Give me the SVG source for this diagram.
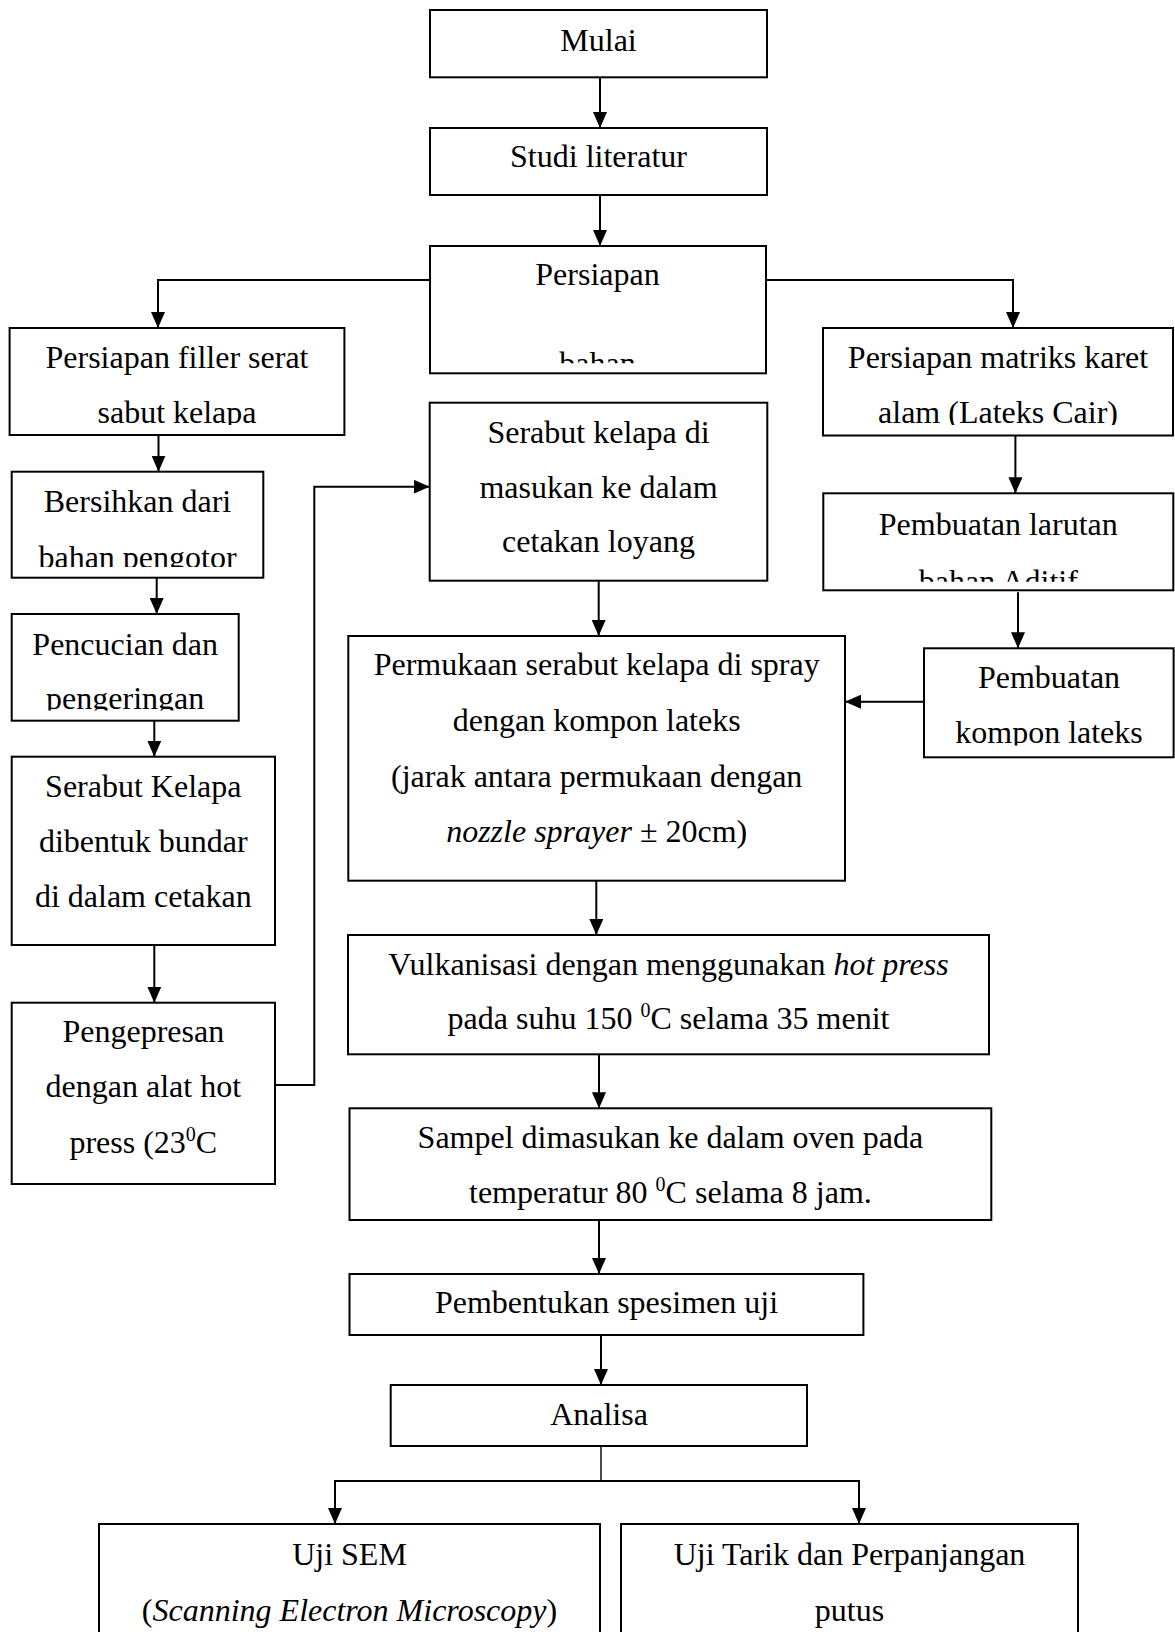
<svg xmlns="http://www.w3.org/2000/svg" width="1175" height="1632" viewBox="0 0 1175 1632">
<style>
.box{fill:#fff;stroke:#000;stroke-width:2}
.t{font-family:"Liberation Serif","Times New Roman",serif;font-size:32px;fill:#000;text-anchor:middle}
.it{font-style:italic}
.c{fill:none;stroke:#000;stroke-width:2}
.thin{fill:none;stroke:#000;stroke-width:1.4}
</style>
<defs>
<marker id="ah" markerUnits="userSpaceOnUse" viewBox="0 0 16 14" refX="16" refY="7" markerWidth="16" markerHeight="14" orient="auto">
<path d="M0,0 L16,7 L0,14 z" fill="#000"/>
</marker>
<clipPath id="cpPersiapan"><rect x="430" y="246" width="337" height="117.3"/></clipPath>
<clipPath id="cpFiller"><rect x="9" y="328" width="336" height="97"/></clipPath>
<clipPath id="cpMatriks"><rect x="823" y="328" width="351" height="97"/></clipPath>
<clipPath id="cpBersihkan"><rect x="11" y="471" width="253" height="96"/></clipPath>
<clipPath id="cpLarutan"><rect x="823" y="493" width="351" height="88.7"/></clipPath>
<clipPath id="cpPencucian"><rect x="11" y="614" width="228" height="96.5"/></clipPath>
<clipPath id="cpKompon"><rect x="924" y="648" width="250" height="97.5"/></clipPath>
</defs>

<g id="connectors">
<path class="c" d="M600,77.3 V128" marker-end="url(#ah)"/>
<path class="c" d="M600,195 V246" marker-end="url(#ah)"/>
<path class="c" d="M430,280 H158 V328" marker-end="url(#ah)"/>
<path class="c" d="M767,280 H1013 V328" marker-end="url(#ah)"/>
<path class="c" d="M158.5,435 V471.7" marker-end="url(#ah)"/>
<path class="c" d="M156.7,577.7 V614" marker-end="url(#ah)"/>
<path class="c" d="M154.3,720.7 V756.7" marker-end="url(#ah)"/>
<path class="c" d="M154.3,945 V1002.7" marker-end="url(#ah)"/>
<path class="c" d="M275,1085 H314.3 V486.7 H429.7" marker-end="url(#ah)"/>
<path class="c" d="M598.7,580.7 V636" marker-end="url(#ah)"/>
<path class="c" d="M1015.4,435.7 V493.3" marker-end="url(#ah)"/>
<path class="c" d="M1018,592.3 V648.3" marker-end="url(#ah)"/>
<path class="c" d="M924,701.7 H845" marker-end="url(#ah)"/>
<path class="c" d="M596.3,880.7 V935" marker-end="url(#ah)"/>
<path class="c" d="M599,1054.3 V1108.3" marker-end="url(#ah)"/>
<path class="c" d="M599,1220 V1274" marker-end="url(#ah)"/>
<path class="c" d="M601,1335 V1385" marker-end="url(#ah)"/>
<path class="thin" d="M601,1446 V1481"/>
<path class="c" d="M601,1481 H335 V1524" marker-end="url(#ah)"/>
<path class="c" d="M601,1481 H859 V1524" marker-end="url(#ah)"/>
</g>

<g id="mulai">
<rect class="box" x="430" y="10" width="337" height="67.3"/>
<text class="t" x="598.5" y="51">Mulai</text>
</g>

<g id="studi">
<rect class="box" x="430" y="128" width="337" height="67"/>
<text class="t" x="598.5" y="167">Studi literatur</text>
</g>

<g id="persiapan">
<rect class="box" x="430" y="246" width="336" height="127.3"/>
<g clip-path="url(#cpPersiapan)">
<text class="t" x="597.5" y="285">Persiapan</text>
<text class="t" x="597.5" y="373.5">bahan</text>
</g>
</g>

<g id="filler">
<rect class="box" x="9.6" y="328" width="334.8" height="107"/>
<g clip-path="url(#cpFiller)">
<text class="t" x="177" y="368">Persiapan filler serat</text>
<text class="t" x="177" y="423">sabut kelapa</text>
</g>
</g>

<g id="matriks">
<rect class="box" x="823" y="328" width="350" height="107.5"/>
<g clip-path="url(#cpMatriks)">
<text class="t" x="998" y="368">Persiapan matriks karet</text>
<text class="t" x="998" y="423">alam (Lateks Cair)</text>
</g>
</g>

<g id="serabut-cetakan">
<rect class="box" x="429.7" y="402.7" width="337.6" height="178"/>
<text class="t" x="598.5" y="443.3">Serabut kelapa di</text>
<text class="t" x="598.5" y="498.3">masukan ke dalam</text>
<text class="t" x="598.5" y="552">cetakan loyang</text>
</g>

<g id="bersihkan">
<rect class="box" x="11.7" y="471.7" width="251.6" height="106"/>
<g clip-path="url(#cpBersihkan)">
<text class="t" x="137.5" y="511.7">Bersihkan dari</text>
<text class="t" x="137.5" y="568">bahan pengotor</text>
</g>
</g>

<g id="larutan">
<rect class="box" x="823.3" y="493.3" width="350" height="97"/>
<g clip-path="url(#cpLarutan)">
<text class="t" x="998.3" y="534.5">Pembuatan larutan</text>
<text class="t" x="998.3" y="591.5">bahan Aditif</text>
</g>
</g>

<g id="pencucian">
<rect class="box" x="11.7" y="614" width="227" height="106.7"/>
<g clip-path="url(#cpPencucian)">
<text class="t" x="125.2" y="655">Pencucian dan</text>
<text class="t" x="125.2" y="709">pengeringan</text>
</g>
</g>

<g id="kompon">
<rect class="box" x="924" y="648.3" width="249.6" height="109"/>
<g clip-path="url(#cpKompon)">
<text class="t" x="1049" y="688.3">Pembuatan</text>
<text class="t" x="1049" y="743.3">kompon lateks</text>
</g>
</g>

<g id="permukaan">
<rect class="box" x="348.3" y="636" width="496.7" height="244.7"/>
<text class="t" x="596.7" y="675">Permukaan serabut kelapa di spray</text>
<text class="t" x="596.7" y="731">dengan kompon lateks</text>
<text class="t" x="596.7" y="786.7">(jarak antara permukaan dengan</text>
<text class="t" x="596.7" y="841.7"><tspan class="it">nozzle sprayer</tspan> ± 20cm)</text>
</g>

<g id="serabut-bundar">
<rect class="box" x="11.7" y="756.7" width="263.3" height="188.3"/>
<text class="t" x="143.3" y="796.7">Serabut Kelapa</text>
<text class="t" x="143.3" y="851.7">dibentuk bundar</text>
<text class="t" x="143.3" y="906.7">di dalam cetakan</text>
</g>

<g id="pengepresan">
<rect class="box" x="11.7" y="1002.7" width="263.3" height="181.3"/>
<text class="t" x="143.3" y="1041.7">Pengepresan</text>
<text class="t" x="143.3" y="1096.7">dengan alat hot</text>
<text class="t" x="143.3" y="1153">press (23<tspan font-size="20" dy="-12">0</tspan><tspan dy="12">C</tspan></text>
</g>

<g id="vulkanisasi">
<rect class="box" x="348" y="935" width="641" height="119.3"/>
<text class="t" x="668.5" y="975">Vulkanisasi dengan menggunakan <tspan class="it">hot press</tspan></text>
<text class="t" x="668.5" y="1028.5">pada suhu 150 <tspan font-size="20" dy="-12">0</tspan><tspan dy="12">C selama 35 menit</tspan></text>
</g>

<g id="sampel">
<rect class="box" x="349.5" y="1108.3" width="641.8" height="111.7"/>
<text class="t" x="670.4" y="1148.3">Sampel dimasukan ke dalam oven pada</text>
<text class="t" x="670.4" y="1203.3">temperatur 80 <tspan font-size="20" dy="-12">0</tspan><tspan dy="12">C selama 8 jam.</tspan></text>
</g>

<g id="pembentukan">
<rect class="box" x="349.5" y="1274" width="513.9" height="61"/>
<text class="t" x="606.5" y="1313.3">Pembentukan spesimen uji</text>
</g>

<g id="analisa">
<rect class="box" x="390.7" y="1385" width="416.3" height="61"/>
<text class="t" x="599" y="1425">Analisa</text>
</g>

<g id="uji-sem">
<rect class="box" x="99" y="1524" width="501" height="130"/>
<text class="t" x="349.5" y="1565">Uji SEM</text>
<text class="t" x="349.5" y="1620.7">(<tspan class="it">Scanning Electron Microscopy</tspan>)</text>
</g>

<g id="uji-tarik">
<rect class="box" x="621" y="1524" width="457" height="130"/>
<text class="t" x="849.5" y="1565">Uji Tarik dan Perpanjangan</text>
<text class="t" x="849.5" y="1620.7">putus</text>
</g>
</svg>
